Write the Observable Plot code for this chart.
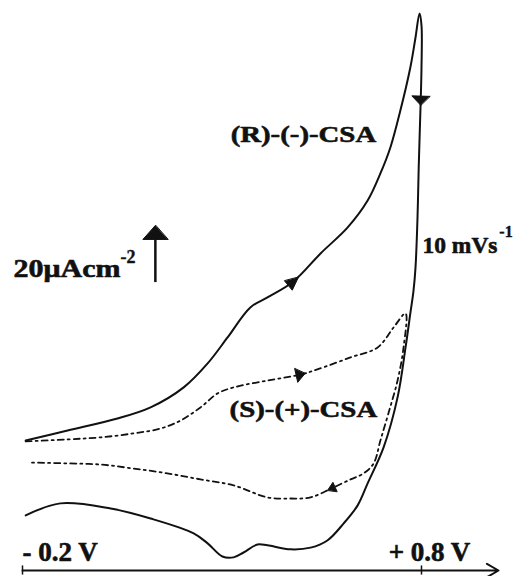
<!DOCTYPE html>
<html>
<head>
<meta charset="utf-8">
<script src="https://cdn.jsdelivr.net/npm/d3@7"></script>
<script src="https://cdn.jsdelivr.net/npm/@observablehq/plot@0.6"></script>
<style>
  html, body { margin: 0; padding: 0; background: #fff; }
</style>
</head>
<body>
<div id="chart"></div>
<script>
// Cyclic voltammograms of polyaniline grown with the two CSA enantiomers.
// Potential in V, current density in µA cm^-2 (zero at the start of the scan).

// (R)-(-)-CSA film: anodic sweep to the vertex, then the cathodic return
const potentialR = [
  -0.192, -0.087, 0.038, 0.121, 0.204, 0.264, 0.314, 0.371, 0.414, 0.479,
  0.547, 0.615, 0.665, 0.697, 0.722, 0.747, 0.772, 0.785, 0.795,
  0.800, 0.800, 0.798, 0.793, 0.790, 0.785, 0.780, 0.772, 0.760, 0.740,
  0.705, 0.665, 0.640, 0.605, 0.564, 0.522, 0.472, 0.414, 0.389, 0.354,
  0.329, 0.301, 0.264, 0.229, 0.121, 0.021, -0.105, -0.192
];
const currentR = [
  0.5, 4.0, 8.2, 12.1, 19.1, 27.5, 36.6, 47.1, 50.6, 56.2,
  66.0, 75.1, 84.5, 94.0, 103.1, 116.0, 131.1, 141.6, 150.0,
  145.8, 131.1, 119.5, 96.1, 78.6, 61.1, 53.0, 45.0, 33.1, 15.6,
  -1.9, -14.5, -22.2, -28.5, -34.5, -37.0, -37.6, -36.2, -35.9, -38.7,
  -40.4, -40.1, -35.5, -32.0, -26.8, -23.3, -21.5, -25.7
];

// (S)-(+)-CSA film
const potentialS = [
  -0.192, -0.087, -0.005, 0.078, 0.146, 0.196, 0.246, 0.289, 0.329, 0.414,
  0.497, 0.539, 0.622, 0.690, 0.730, 0.760,
  0.755, 0.740, 0.717, 0.697, 0.680, 0.655, 0.622, 0.574, 0.522, 0.472,
  0.414, 0.329, 0.246, 0.163, 0.078, -0.005, -0.087, -0.185
];
const currentS = [
  0.2, 0.9, 1.6, 3.0, 4.7, 7.5, 12.1, 17.0, 19.1, 21.5,
  23.6, 25.4, 29.6, 33.1, 40.1, 45.0,
  33.1, 21.5, 10.0, 0.5, -7.5, -11.0, -13.1, -16.3, -19.4, -19.8,
  -19.4, -15.2, -13.1, -11.0, -9.3, -7.9, -7.5, -7.2
];

// scan-direction markers: index of the point each one sits on
const scanMarksR = [9, 21];
const scanMarksS = [10, 23];

const seriesNames = ["(R)-(-)-CSA", "(S)-(+)-CSA"];
const potentialTicks = [-0.2, 0.8];
const potentialTickLabels = ["- 0.2 V", "+ 0.8 V"];
const scanRateLabel = ["10 mVs", "-1"];
const scaleBarValue = 20;
const scaleBarLabel = ["20\u03bcAcm", "-2"];

// ---- layout ----
const W = 523, H = 576;
const margin = {top: 13, right: 102, bottom: 6, left: 22};
const xDomain = [-0.2, 0.8];
const yDomain = [-45, 150];
const xs = d3.scaleLinear(xDomain, [margin.left, W - margin.right]);
const ys = d3.scaleLinear(yDomain, [H - margin.bottom, margin.top]);

const R = potentialR.map((v, k) => ({v, i: currentR[k]}));
const S = potentialS.map((v, k) => ({v, i: currentS[k]}));

// filled arrowhead centred on a curve point, pointing along the scan
function arrowHead(points, k, len, half, id) {
  const a = points[Math.max(0, k - 1)];
  const b = points[Math.min(points.length - 1, k + 1)];
  let dx = xs(b.v) - xs(a.v), dy = ys(b.i) - ys(a.i);
  const n = Math.hypot(dx, dy); dx /= n; dy /= n;
  const cx = xs(points[k].v), cy = ys(points[k].i);
  const tip = [cx + dx * len / 2, cy + dy * len / 2];
  const bx = cx - dx * len / 2, by = cy - dy * len / 2;
  const left = [bx - dy * half, by + dx * half];
  const right = [bx + dy * half, by - dx * half];
  return [tip, left, right].map(([px, py]) => ({v: xs.invert(px), i: ys.invert(py), id}));
}

const heads = [
  ...arrowHead(R, scanMarksR[0], 13, 6, "r0"),
  ...arrowHead(R, scanMarksR[1], 9, 9, "r1"),
  ...arrowHead(S, scanMarksS[0], 9, 7, "s0"),
  ...arrowHead(S, scanMarksS[1], 8, 5, "s1")
];

// 20 µA cm^-2 scale bar
const barX = 0.133, barBase = 55.8;
const barTop = barBase + scaleBarValue;
const barHeadLen = 14;
const bar = [{v: barX, i0: barBase, i1: ys.invert(ys(barTop) + barHeadLen - 1)}];
const barHead = (() => {
  const tx = xs(barX), ty = ys(barTop);
  return [[tx, ty], [tx - 12.5, ty + barHeadLen], [tx + 12.5, ty + barHeadLen]]
    .map(([px, py]) => ({v: xs.invert(px), i: ys.invert(py), id: "bar"}));
})();

const axisEnd = xs.invert(498);
const ink = "#111";
const serif = "'Liberation Serif', 'Times New Roman', serif";
// heavy print face: bold serif with a thin outline of the same ink
const label = {fontWeight: "bold", fill: ink, stroke: ink, strokeWidth: 0.6, lineAnchor: "bottom", text: d => d};

const chart = Plot.plot({
  width: W,
  height: H,
  marginTop: margin.top,
  marginRight: margin.right,
  marginBottom: margin.bottom,
  marginLeft: margin.left,
  x: {domain: xDomain, axis: null},
  y: {domain: yDomain, axis: null},
  style: {background: "#fff", color: ink, fontFamily: serif},
  marks: [
    // voltammograms
    Plot.line(R, {x: "v", y: "i", curve: "catmull-rom", stroke: ink, strokeWidth: 2}),
    Plot.line(S, {x: "v", y: "i", curve: "catmull-rom", stroke: ink, strokeWidth: 1.8,
      strokeDasharray: "6,4,2,4"}),
    Plot.line(heads, {x: "v", y: "i", z: "id", curve: "linear-closed", fill: ink, stroke: ink, strokeWidth: 1}),

    // potential axis
    Plot.arrow([{x1: xDomain[0], x2: axisEnd, y: yDomain[0]}],
      {x1: "x1", x2: "x2", y1: "y", y2: "y", stroke: ink, strokeWidth: 2, headLength: 10}),
    Plot.ruleX(potentialTicks, {x: d => d, y1: yDomain[0] - 1.6, y2: yDomain[0] + 1.6, stroke: ink, strokeWidth: 1.5}),
    Plot.text([potentialTickLabels[0]], {...label, x: potentialTicks[0], y: yDomain[0],
      textAnchor: "start", dy: -10, fontSize: 27}),
    Plot.text([potentialTickLabels[1]], {...label, x: potentialTicks[1], y: yDomain[0],
      textAnchor: "middle", dx: 8, dy: -10, fontSize: 27}),

    // series labels
    Plot.text([seriesNames[0]], {...label, x: 0.504, y: 104.9, textAnchor: "middle",
      fontSize: 24, className: "wide"}),
    Plot.text([seriesNames[1]], {...label, x: 0.504, y: 8.9, textAnchor: "middle",
      fontSize: 24, className: "wide"}),

    // scan rate
    Plot.text([scanRateLabel[0]], {...label, x: 0.8025, y: 66.3, textAnchor: "start",
      fontSize: 24, className: "rate"}),
    Plot.text([scanRateLabel[1]], {...label, x: 0.995, y: 71.6, textAnchor: "start",
      fontSize: 16, strokeWidth: 0.4}),

    // current scale bar
    Plot.ruleX(bar, {x: "v", y1: "i0", y2: "i1", stroke: ink, strokeWidth: 2.5}),
    Plot.line(barHead, {x: "v", y: "i", z: "id", curve: "linear-closed", fill: ink, stroke: ink, strokeWidth: 1}),
    Plot.text([scaleBarLabel[0]], {...label, x: -0.2226, y: 57.9, textAnchor: "start",
      fontSize: 26, className: "unit"}),
    Plot.text([scaleBarLabel[1]], {...label, x: 0.0456, y: 62.5, textAnchor: "start",
      fontSize: 18, strokeWidth: 0.4})
  ]
});

document.getElementById("chart").appendChild(chart);

// the printed labels are set a little wider than the plain face
function widen(selector, width) {
  d3.select(chart).selectAll(selector).each(function () {
    const len = typeof width === "function" ? width(this.getComputedTextLength()) : width;
    d3.select(this).attr("textLength", len).attr("lengthAdjust", "spacingAndGlyphs");
  });
}
widen("g.wide text", len => len * 1.2);
widen("g.unit text", 107);
widen("g.rate text", 75);
</script>
</body>
</html>
